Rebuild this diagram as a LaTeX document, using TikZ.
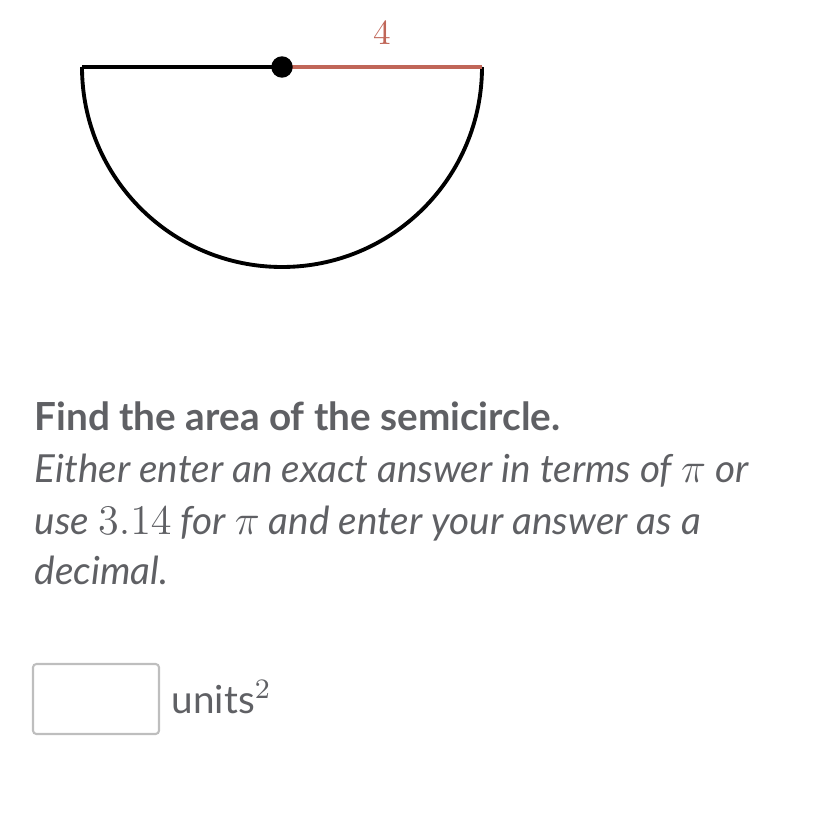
\documentclass[tikz,border=0pt]{standalone}
\usepackage{fontspec}
\setsansfont{Lato}
\usepackage{tikz}
\usetikzlibrary{positioning,calc}
\definecolor{radiusred}{RGB}{192,102,88}
\definecolor{textgray}{RGB}{95,96,100}
\definecolor{boxgray}{RGB}{190,190,190}
\tikzset{
  edge/.style={line width=1.1pt, black},
  prompt/.style={anchor=base west, inner sep=0pt, text=textgray, font=\sffamily\fontsize{11}{13}\selectfont},
}
\begin{document}
\begin{tikzpicture}[x=0.01cm, y=-0.01cm]
        \useasboundingbox (0,0) rectangle (828,828);
        \coordinate (c) at (282, 67);
        \coordinate (l) at (82, 67);
        \coordinate (r) at (482, 67);
          % semicircle
          \draw[edge] (l) -- (c);
          \draw[edge] (l) arc[start angle=180, end angle=360, x radius=200, y radius=-200];
          % radius
          \draw[line width=1.1pt, radiusred] (c) -- (r);
          \filldraw [black] (c) circle (10);
          \node[text=radiusred, inner sep=0pt, font=\fontsize{10}{12}\selectfont] (rlabel) at (382, 33) {$4$};

          % question text
          \node[prompt, font=\sffamily\bfseries\fontsize{11}{13}\selectfont] (q1) at (34, 430) {Find the area of the semicircle.};
          \node[prompt] (q2) at (34, 482) {\itshape Either enter an exact answer in terms of {\large$\pi$} or};
          \node[prompt] (q3) at (34, 534) {\itshape use {\large$3.14$} for {\large$\pi$} and enter your answer as a};
          \node[prompt] (q4) at (34, 584) {\itshape decimal.};

          % answer box
          \node[draw=boxgray, line width=0.6pt, rounded corners=1pt, minimum width=1.26cm, minimum height=0.7cm, inner sep=0pt] (ans) at (96, 699) {};
          \node[prompt, anchor=west] (units) at ($(ans.east)+(11,-2)$) {units\raisebox{4.5pt}{\fontsize{8.5}{9}\selectfont$2$}};
     \end{tikzpicture}
\end{document}
